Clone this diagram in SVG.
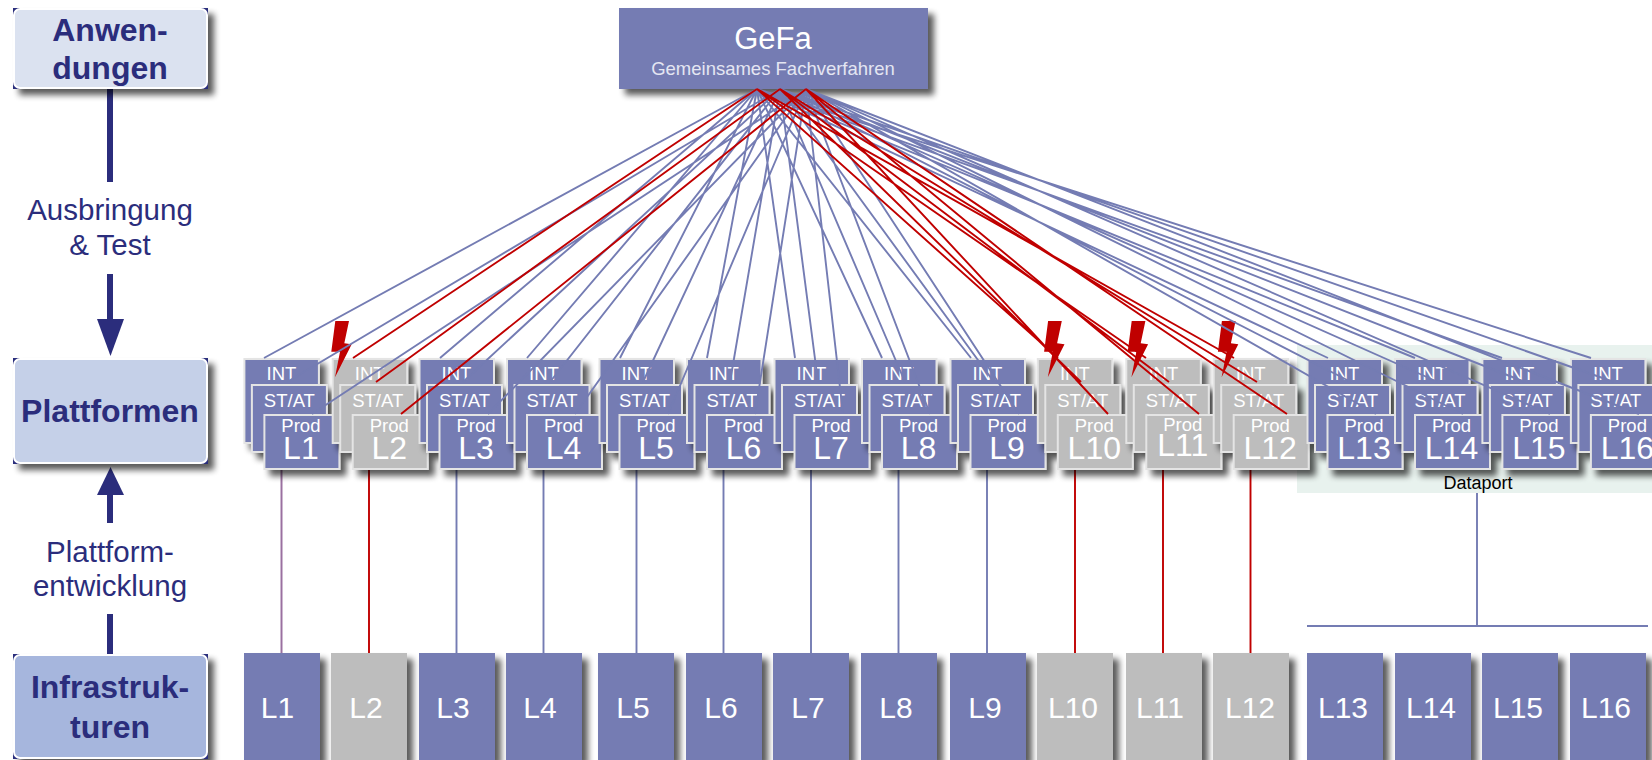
<svg xmlns="http://www.w3.org/2000/svg" xmlns:xlink="http://www.w3.org/1999/xlink" width="1652" height="760" viewBox="0 0 1652 760">
<style>
text{font-family:"Liberation Sans",Arial,sans-serif;text-anchor:middle}
.lane{font-weight:bold;font-size:32px;fill:#2b2d7c}
.axl{font-size:29.500px;fill:#2b2d7c}
.b{fill:#747cb3;stroke:#e4e4e4;stroke-width:2}
.g{fill:#bdbdbd;stroke:#e4e4e4;stroke-width:2}
.ib{fill:#747cb3}
.ig{fill:#bdbdbd}
.t{fill:#fff;font-size:18.500px}
.n{fill:#fff;font-size:32px}
.in{fill:#fff;font-size:30px}
.cb{stroke:#747cb3;stroke-width:1.900;fill:none}
.cr{stroke:#c00000;stroke-width:1.900;fill:none}
.cv{stroke:#9a70a0;stroke-width:2;fill:none}
.ax{stroke:#2b2d7c;stroke-width:6;fill:none}
.bolt{fill:#c00000}
</style>
<defs>
<filter id="sh" x="-25%" y="-25%" width="160%" height="160%"><feGaussianBlur in="SourceAlpha" stdDeviation="3"/><feOffset dx="6" dy="6"/><feComponentTransfer><feFuncA type="linear" slope="0.65"/></feComponentTransfer><feMerge><feMergeNode/><feMergeNode in="SourceGraphic"/></feMerge></filter>
<polygon id="boltS" class="bolt" points="335.3,321 349,321 344.3,343.3 351.7,344.3 335,377.3 340,351.7 331.3,351.7"/>
</defs>
<rect id="dataport-bg" x="1297" y="345" width="355" height="148" fill="#e8f2ee"/>
<text x="1478" y="489" font-size="18" fill="#000">Dataport</text>

<g id="axis">
<path class="ax" d="M110 89V182M110 274V322M110 492V523M110 614V654"/>
<polygon points="97,319 124,319 110.5,356" fill="#2b2d7c"/>
<polygon points="97,495 124,495 110.5,467" fill="#2b2d7c"/>
<text class="axl" x="110" y="220">Ausbringung</text>
<text class="axl" x="110" y="255">&amp; Test</text>
<text class="axl" x="110" y="562">Plattform-</text>
<text class="axl" x="110" y="596">entwicklung</text>
</g>

<g id="lane-anwendungen">
<rect x="13" y="8" width="195" height="81" fill="#2b2d7c" filter="url(#sh)"/>
<rect x="14" y="9" width="193" height="79" rx="6" fill="#dbe2f0" stroke="#fff" stroke-width="2"/>
<text class="lane" x="110" y="41">Anwen-</text><text class="lane" x="110" y="79">dungen</text>
</g>
<g id="lane-plattformen">
<rect x="13" y="358" width="195" height="106" fill="#2b2d7c" filter="url(#sh)"/>
<rect x="14" y="359" width="193" height="104" rx="6" fill="#c5d0e8" stroke="#fff" stroke-width="2"/>
<text class="lane" x="110" y="422">Plattformen</text>
</g>
<g id="lane-infrastrukturen">
<rect x="13" y="654" width="195" height="105" fill="#2b2d7c" filter="url(#sh)"/>
<rect x="14" y="655" width="193" height="103" rx="6" fill="#a6b6dd" stroke="#fff" stroke-width="2"/>
<text class="lane" x="110" y="698">Infrastruk-</text><text class="lane" x="110" y="738">turen</text>
</g>

<g id="gefa">
<rect x="619" y="8" width="309" height="81" fill="#747cb3" filter="url(#sh)"/>
<text x="773" y="49" font-size="31" fill="#fff">GeFa</text>
<text x="773" y="75" font-size="18.500" fill="#e4e6f2">Gemeinsames Fachverfahren</text>
</g>

<g id="verticals">
<path class="cv" d="M281.500 469V653"/>
<path class="cr" d="M369 469V653M1075 469V653M1163 469V653M1250.500 469V653"/>
<path class="cb" d="M456.500 469V653M543.500 469V653M636.500 469V653M723.500 469V653M811 469V653M898.500 469V653M987 469V653M1477 493V626M1307 626H1648"/>
</g>

<g id="infra-L1"><rect class="ib" x="244" y="653" width="76" height="107" filter="url(#sh)"/><text class="in" x="277.500" y="718">L1</text></g>
<g id="infra-L2"><rect class="ig" x="331" y="653" width="76" height="107" filter="url(#sh)"/><text class="in" x="366" y="718">L2</text></g>
<g id="infra-L3"><rect class="ib" x="419" y="653" width="76" height="107" filter="url(#sh)"/><text class="in" x="453" y="718">L3</text></g>
<g id="infra-L4"><rect class="ib" x="506" y="653" width="76" height="107" filter="url(#sh)"/><text class="in" x="540" y="718">L4</text></g>
<g id="infra-L5"><rect class="ib" x="598" y="653" width="76" height="107" filter="url(#sh)"/><text class="in" x="633" y="718">L5</text></g>
<g id="infra-L6"><rect class="ib" x="686" y="653" width="76" height="107" filter="url(#sh)"/><text class="in" x="721" y="718">L6</text></g>
<g id="infra-L7"><rect class="ib" x="773" y="653" width="76" height="107" filter="url(#sh)"/><text class="in" x="808" y="718">L7</text></g>
<g id="infra-L8"><rect class="ib" x="861" y="653" width="76" height="107" filter="url(#sh)"/><text class="in" x="896" y="718">L8</text></g>
<g id="infra-L9"><rect class="ib" x="950" y="653" width="76" height="107" filter="url(#sh)"/><text class="in" x="985" y="718">L9</text></g>
<g id="infra-L10"><rect class="ig" x="1037" y="653" width="76" height="107" filter="url(#sh)"/><text class="in" x="1073" y="718">L10</text></g>
<g id="infra-L11"><rect class="ig" x="1126" y="653" width="76" height="107" filter="url(#sh)"/><text class="in" x="1160" y="718">L11</text></g>
<g id="infra-L12"><rect class="ig" x="1213" y="653" width="76" height="107" filter="url(#sh)"/><text class="in" x="1250" y="718">L12</text></g>
<g id="infra-L13"><rect class="ib" x="1307" y="653" width="76" height="107" filter="url(#sh)"/><text class="in" x="1343" y="718">L13</text></g>
<g id="infra-L14"><rect class="ib" x="1395" y="653" width="76" height="107" filter="url(#sh)"/><text class="in" x="1431" y="718">L14</text></g>
<g id="infra-L15"><rect class="ib" x="1482" y="653" width="76" height="107" filter="url(#sh)"/><text class="in" x="1518" y="718">L15</text></g>
<g id="infra-L16"><rect class="ib" x="1570" y="653" width="76" height="107" filter="url(#sh)"/><text class="in" x="1606" y="718">L16</text></g>

<g id="stack-L1" transform="translate(244.400 0)"><rect class="b" width="74.500" height="84" y="359" filter="url(#sh)"/><text class="t" x="37" y="380">INT</text><rect class="b" x="7.500" y="385" width="75" height="67" filter="url(#sh)"/><text class="t" x="45" y="407">ST/AT</text><rect class="b" x="20" y="415" width="75" height="54" filter="url(#sh)"/><text class="t" x="56.500" y="432">Prod</text><text class="n" x="56.500" y="459">L1</text></g>
<g id="stack-L2" transform="translate(332.700 0)"><rect class="g" width="74.500" height="84" y="359" filter="url(#sh)"/><text class="t" x="37" y="380">INT</text><rect class="g" x="7.500" y="385" width="75" height="67" filter="url(#sh)"/><text class="t" x="45" y="407">ST/AT</text><rect class="g" x="20" y="415" width="75" height="54" filter="url(#sh)"/><text class="t" x="56.500" y="432">Prod</text><text class="n" x="56.500" y="459">L2</text></g>
<g id="stack-L3" transform="translate(419.500 0)"><rect class="b" width="74.500" height="84" y="359" filter="url(#sh)"/><text class="t" x="37" y="380">INT</text><rect class="b" x="7.500" y="385" width="75" height="67" filter="url(#sh)"/><text class="t" x="45" y="407">ST/AT</text><rect class="b" x="20" y="415" width="75" height="54" filter="url(#sh)"/><text class="t" x="56.500" y="432">Prod</text><text class="n" x="56.500" y="459">L3</text></g>
<g id="stack-L4" transform="translate(507 0)"><rect class="b" width="74.500" height="84" y="359" filter="url(#sh)"/><text class="t" x="37" y="380">INT</text><rect class="b" x="7.500" y="385" width="75" height="67" filter="url(#sh)"/><text class="t" x="45" y="407">ST/AT</text><rect class="b" x="20" y="415" width="75" height="54" filter="url(#sh)"/><text class="t" x="56.500" y="432">Prod</text><text class="n" x="56.500" y="459">L4</text></g>
<g id="stack-L5" transform="translate(599.500 0)"><rect class="b" width="74.500" height="84" y="359" filter="url(#sh)"/><text class="t" x="37" y="380">INT</text><rect class="b" x="7.500" y="385" width="75" height="67" filter="url(#sh)"/><text class="t" x="45" y="407">ST/AT</text><rect class="b" x="20" y="415" width="75" height="54" filter="url(#sh)"/><text class="t" x="56.500" y="432">Prod</text><text class="n" x="56.500" y="459">L5</text></g>
<g id="stack-L6" transform="translate(687 0)"><rect class="b" width="74.500" height="84" y="359" filter="url(#sh)"/><text class="t" x="37" y="380">INT</text><rect class="b" x="7.500" y="385" width="75" height="67" filter="url(#sh)"/><text class="t" x="45" y="407">ST/AT</text><rect class="b" x="20" y="415" width="75" height="54" filter="url(#sh)"/><text class="t" x="56.500" y="432">Prod</text><text class="n" x="56.500" y="459">L6</text></g>
<g id="stack-L7" transform="translate(774.500 0)"><rect class="b" width="74.500" height="84" y="359" filter="url(#sh)"/><text class="t" x="37" y="380">INT</text><rect class="b" x="7.500" y="385" width="75" height="67" filter="url(#sh)"/><text class="t" x="45" y="407">ST/AT</text><rect class="b" x="20" y="415" width="75" height="54" filter="url(#sh)"/><text class="t" x="56.500" y="432">Prod</text><text class="n" x="56.500" y="459">L7</text></g>
<g id="stack-L8" transform="translate(862 0)"><rect class="b" width="74.500" height="84" y="359" filter="url(#sh)"/><text class="t" x="37" y="380">INT</text><rect class="b" x="7.500" y="385" width="75" height="67" filter="url(#sh)"/><text class="t" x="45" y="407">ST/AT</text><rect class="b" x="20" y="415" width="75" height="54" filter="url(#sh)"/><text class="t" x="56.500" y="432">Prod</text><text class="n" x="56.500" y="459">L8</text></g>
<g id="stack-L9" transform="translate(950.500 0)"><rect class="b" width="74.500" height="84" y="359" filter="url(#sh)"/><text class="t" x="37" y="380">INT</text><rect class="b" x="7.500" y="385" width="75" height="67" filter="url(#sh)"/><text class="t" x="45" y="407">ST/AT</text><rect class="b" x="20" y="415" width="75" height="54" filter="url(#sh)"/><text class="t" x="56.500" y="432">Prod</text><text class="n" x="56.500" y="459">L9</text></g>
<g id="stack-L10" transform="translate(1037.800 0)"><rect class="g" width="74.500" height="84" y="359" filter="url(#sh)"/><text class="t" x="37" y="380">INT</text><rect class="g" x="7.500" y="385" width="75" height="67" filter="url(#sh)"/><text class="t" x="45" y="407">ST/AT</text><rect class="g" x="20" y="415" width="75" height="54" filter="url(#sh)"/><text class="t" x="56.500" y="432">Prod</text><text class="n" x="56.500" y="459">L10</text></g>
<g id="stack-L11" transform="translate(1126.300 0)"><rect class="g" width="74.500" height="84" y="359" filter="url(#sh)"/><text class="t" x="37" y="380">INT</text><rect class="g" x="7.500" y="385" width="75" height="67" filter="url(#sh)"/><text class="t" x="45" y="407">ST/AT</text><rect class="g" x="20" y="415" width="75" height="54" filter="url(#sh)"/><text class="t" x="56.500" y="431">Prod</text><text class="n" x="56.500" y="456">L11</text></g>
<g id="stack-L12" transform="translate(1213.700 0)"><rect class="g" width="74.500" height="84" y="359" filter="url(#sh)"/><text class="t" x="37" y="380">INT</text><rect class="g" x="7.500" y="385" width="75" height="67" filter="url(#sh)"/><text class="t" x="45" y="407">ST/AT</text><rect class="g" x="20" y="415" width="75" height="54" filter="url(#sh)"/><text class="t" x="56.500" y="432">Prod</text><text class="n" x="56.500" y="459">L12</text></g>
<g id="stack-L13" transform="translate(1307.500 0)"><rect class="b" width="74.500" height="84" y="359" filter="url(#sh)"/><text class="t" x="37" y="380">INT</text><rect class="b" x="7.500" y="385" width="75" height="67" filter="url(#sh)"/><text class="t" x="45" y="407">ST/AT</text><rect class="b" x="20" y="415" width="75" height="54" filter="url(#sh)"/><text class="t" x="56.500" y="432">Prod</text><text class="n" x="56.500" y="459">L13</text></g>
<g id="stack-L14" transform="translate(1395 0)"><rect class="b" width="74.500" height="84" y="359" filter="url(#sh)"/><text class="t" x="37" y="380">INT</text><rect class="b" x="7.500" y="385" width="75" height="67" filter="url(#sh)"/><text class="t" x="45" y="407">ST/AT</text><rect class="b" x="20" y="415" width="75" height="54" filter="url(#sh)"/><text class="t" x="56.500" y="432">Prod</text><text class="n" x="56.500" y="459">L14</text></g>
<g id="stack-L15" transform="translate(1482.400 0)"><rect class="b" width="74.500" height="84" y="359" filter="url(#sh)"/><text class="t" x="37" y="380">INT</text><rect class="b" x="7.500" y="385" width="75" height="67" filter="url(#sh)"/><text class="t" x="45" y="407">ST/AT</text><rect class="b" x="20" y="415" width="75" height="54" filter="url(#sh)"/><text class="t" x="56.500" y="432">Prod</text><text class="n" x="56.500" y="459">L15</text></g>
<g id="stack-L16" transform="translate(1570.900 0)"><rect class="b" width="74.500" height="84" y="359" filter="url(#sh)"/><text class="t" x="37" y="380">INT</text><rect class="b" x="7.500" y="385" width="75" height="67" filter="url(#sh)"/><text class="t" x="45" y="407">ST/AT</text><rect class="b" x="20" y="415" width="75" height="54" filter="url(#sh)"/><text class="t" x="56.500" y="432">Prod</text><text class="n" x="56.500" y="459">L16</text></g>

<g id="bolts">
<use xlink:href="#boltS" href="#boltS"/>
<use xlink:href="#boltS" href="#boltS" x="712.800"/>
<use xlink:href="#boltS" href="#boltS" x="796.400"/>
<use xlink:href="#boltS" href="#boltS" x="886.600"/>
</g>

<g id="connectors">
<path class="cb" d="M757 89L264 358M780 89L287 382M806 89L312 414
M757 89L440 358M780 89L463 382M806 89L488 414
M757 89L527 358M780 89L550 382M806 89L575 414
M757 89L620 358M780 89L643 382M806 89L668 414
M757 89L707 358M780 89L730 382M806 89L755 414
M757 89L795 358M780 89L818 382M806 89L843 414
M757 89L882 358M780 89L905 382M806 89L930 414
M757 89L971 358M780 89L994 382M806 89L1019 414
M757 89L1328 358M780 89L1351 382M806 89L1376 414
M757 89L1415 358M780 89L1438 382M806 89L1463 414
M757 89L1502 358M780 89L1525 382M806 89L1550 414
M757 89L1591 358M780 89L1614 382M806 89L1639 414"/>
<path class="cr" d="M757 89L353 358M780 89L376 382M806 89L401 414
M757 89L1058 358M780 89L1081 382M806 89L1108 414
M757 89L1146 358M780 89L1169 382M806 89L1199 414
M757 89L1234 358M780 89L1257 382M806 89L1287 414"/>
</g>
</svg>
